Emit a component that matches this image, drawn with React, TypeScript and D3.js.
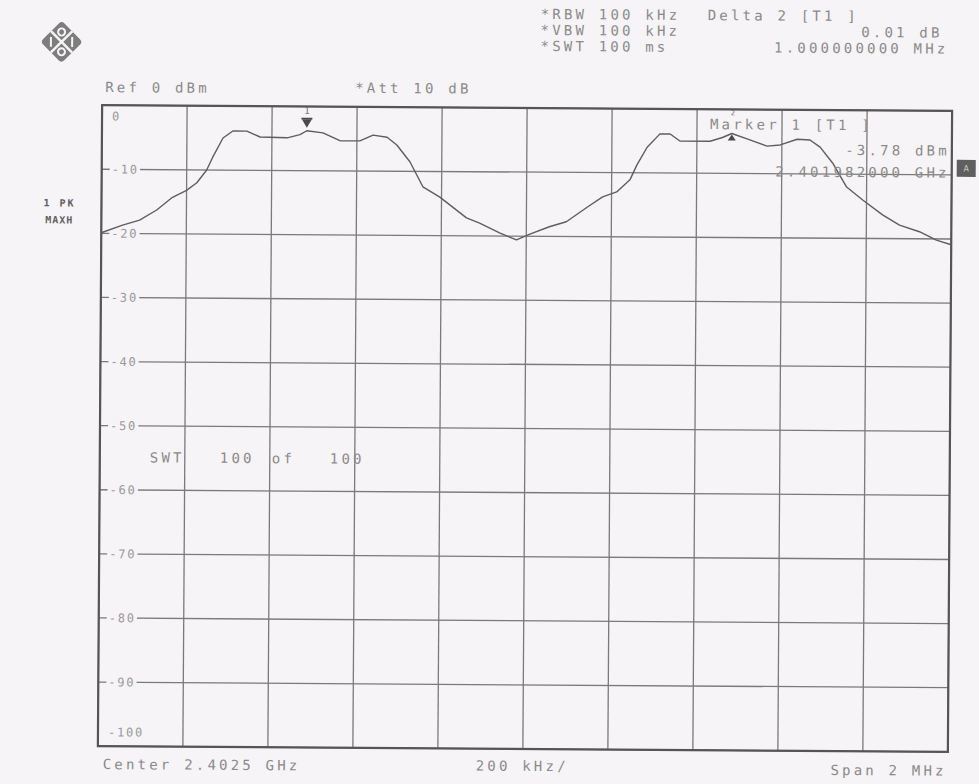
import React from "react";
import * as d3 from "d3";

// ---- data ----
const CENTER_GHZ = 2.4025;
const SPAN_MHZ = 2;
const REF_LEVEL_DBM = 0;
const Y_TICKS = [0, -10, -20, -30, -40, -50, -60, -70, -80, -90, -100];

// frequency offset from center (MHz) and trace level (dBm)
const TRACE_FREQ_MHZ = [
  -1.0, -0.95, -0.91, -0.87, -0.833, -0.8, -0.776, -0.753, -0.739, -0.715,
  -0.692, -0.659, -0.628, -0.564, -0.534, -0.518, -0.48, -0.44, -0.393, -0.362,
  -0.329, -0.306, -0.275, -0.244, -0.204, -0.141, -0.11, -0.063, -0.023, 0.007,
  0.054, 0.094, 0.141, 0.179, 0.212, 0.243, 0.259, 0.283, 0.313, 0.337,
  0.36, 0.431, 0.46, 0.482, 0.518, 0.565, 0.596, 0.636, 0.666, 0.69,
  0.72, 0.753, 0.791, 0.838, 0.878, 0.925, 0.965, 1.0,
];
const TRACE_LEVEL_DBM = [
  -19.9, -18.7, -17.9, -16.3, -14.3, -13.2, -12.0, -10.0, -8.0, -5.0,
  -3.9, -3.9, -4.8, -4.9, -4.4, -3.78, -4.1, -5.3, -5.3, -4.4,
  -4.7, -5.9, -8.5, -12.4, -14.0, -17.2, -18.0, -19.5, -20.6, -19.7,
  -18.5, -17.7, -15.5, -13.8, -13.0, -11.1, -8.8, -6.0, -3.9, -3.9,
  -5.0, -5.0, -4.4, -3.77, -4.6, -5.7, -5.5, -4.6, -4.7, -5.8,
  -8.3, -12.0, -14.0, -16.3, -17.9, -18.9, -20.2, -20.9,
];

const MARKER1_FREQ_MHZ = -0.518;
const MARKER1_LEVEL_DBM = -3.78;
const DELTA2_FREQ_MHZ = 1.0;
const DELTA2_LEVEL_DB = 0.01;

const HEADER_LEFT = ["*RBW 100 kHz", "*VBW 100 kHz", "*SWT 100 ms"];

// ---- layout ----
const W = 979;
const H = 784;
const L = 100;
const R = 950;
const T = 108;
const B = 749;

const BG = "#f6f4f6";
const TXT = "#8a8a8a";
const MONO = "'DejaVu Sans Mono', 'Liberation Mono', monospace";

export default function App() {
  const x = d3.scaleLinear().domain([-SPAN_MHZ / 2, SPAN_MHZ / 2]).range([L, R]);
  const y = d3.scaleLinear().domain([-100, REF_LEVEL_DBM]).range([B, T]);
  const xDivs = d3.range(0, 11).map((i) => -SPAN_MHZ / 2 + (i * SPAN_MHZ) / 10);

  const pts: [number, number][] = TRACE_FREQ_MHZ.map((f, i) => [f, TRACE_LEVEL_DBM[i]]);
  const line = d3
    .line<[number, number]>()
    .x((d) => x(d[0]))
    .y((d) => y(d[1]))
    .curve(d3.curveLinear);

  const m1x = x(MARKER1_FREQ_MHZ);
  const m1y = y(MARKER1_LEVEL_DBM);
  const m2x = x(MARKER1_FREQ_MHZ + DELTA2_FREQ_MHZ);
  const m2y = y(MARKER1_LEVEL_DBM + DELTA2_LEVEL_DB);

  const markerGHz = (CENTER_GHZ + MARKER1_FREQ_MHZ / 1000).toFixed(9);

  const hdr = { fontFamily: MONO, fontSize: 14, letterSpacing: 3.2, fill: TXT } as const;
  const tick = { fontFamily: MONO, fontSize: 12, letterSpacing: 1.8, fill: "#9a9a9a" } as const;

  return (
    <svg
      width={W}
      height={H}
      style={{ position: "absolute", left: 0, top: 0, display: "block" }}
    >
      <rect x={0} y={0} width={W} height={H} fill={BG} />
      <g transform="rotate(0.38 527 428)">
        {/* logo */}
        <g transform="translate(59,45) rotate(45)">
          <rect x={-15} y={-15} width={30} height={30} rx={4} fill="#7d7d7d" />
          <line x1={-15} y1={0} x2={15} y2={0} stroke={BG} strokeWidth={2.5} />
          <line x1={0} y1={-15} x2={0} y2={15} stroke={BG} strokeWidth={2.5} />
          <circle cx={-7} cy={-7} r={3.5} fill="none" stroke={BG} strokeWidth={2} />
          <circle cx={7} cy={7} r={3.5} fill="none" stroke={BG} strokeWidth={2} />
          <path d="M4,-11 L11,-4" stroke={BG} strokeWidth={2} />
          <path d="M-11,4 L-4,11" stroke={BG} strokeWidth={2} />
        </g>

        {/* header texts */}
        {HEADER_LEFT.map((t, i) => (
          <text key={t} x={538} y={14 + i * 16} dy="0.35em" {...hdr}>
            {t}
          </text>
        ))}
        <text x={705} y={14} dy="0.35em" {...hdr}>
          Delta 2 [T1 ]
        </text>
        <text x={940} y={30} dy="0.35em" textAnchor="end" {...hdr}>
          {`${DELTA2_LEVEL_DB.toFixed(2)} dB`}
        </text>
        <text x={946} y={46} dy="0.35em" textAnchor="end" {...hdr}>
          {`${DELTA2_FREQ_MHZ.toFixed(9)} MHz`}
        </text>
        <text x={103} y={90} dy="0.35em" {...hdr}>
          {`Ref  ${REF_LEVEL_DBM} dBm`}
        </text>
        <text x={353} y={89} dy="0.35em" {...hdr}>
          *Att  10 dB
        </text>

        {/* trace label */}
        <text x={58} y={206} dy="0.35em" textAnchor="middle" fontFamily={MONO} fontSize={10} fontWeight="bold" letterSpacing={2} fill="#606060">
          1 PK
        </text>
        <text x={58} y={223} dy="0.35em" textAnchor="middle" fontFamily={MONO} fontSize={10} fontWeight="bold" letterSpacing={1} fill="#606060">
          MAXH
        </text>

        {/* grid */}
        {Y_TICKS.map((v) => (
          <line key={"h" + v} x1={L} x2={R} y1={y(v)} y2={y(v)} stroke="#7a7a7a" strokeWidth={1.3} />
        ))}
        {xDivs.map((f, i) => (
          <line key={"v" + i} x1={x(f)} x2={x(f)} y1={T} y2={B} stroke="#7a7a7a" strokeWidth={1.3} />
        ))}

        {/* y tick labels */}
        {Y_TICKS.map((v) => {
          const isEdge = v === 0 || v === -100;
          const ty = v === 0 ? T + 11 : v === -100 ? B - 14 : y(v);
          const label = `${v}`;
          const w = label.length * 9.1;
          return (
            <g key={"t" + v}>
              {!isEdge && <rect x={L + 8} y={ty - 6} width={w + 3} height={12} fill={BG} />}
              <text x={L + 10} y={ty} dy="0.35em" {...tick}>
                {label}
              </text>
            </g>
          );
        })}

        {/* sweep count */}
        <text x={150} y={460} dy="0.35em" {...hdr}>SWT</text>
        <text x={220} y={460} dy="0.35em" {...hdr}>100</text>
        <text x={272} y={460} dy="0.35em" {...hdr}>of</text>
        <text x={330} y={460} dy="0.35em" {...hdr}>100</text>

        {/* frame */}
        <rect x={L} y={T} width={R - L} height={B - T} fill="none" stroke="#555" strokeWidth={2.2} />

        {/* trace */}
        <path d={line(pts) || ""} fill="none" stroke="#5e5e5e" strokeWidth={1.4} strokeLinejoin="round" />

        {/* marker 1 */}
        <rect x={m1x - 5.5} y={m1y - 13} width={11} height={1.6} fill="#4a4a4a" />
        <path d={`M${m1x - 5},${m1y - 11.5} L${m1x + 5},${m1y - 11.5} L${m1x},${m1y - 3} Z`} fill="#4a4a4a" />
        <text x={m1x} y={m1y - 17} textAnchor="middle" fontFamily={MONO} fontSize={9} fill="#707070">
          1
        </text>

        {/* delta marker 2 */}
        <path d={`M${m2x},${m2y + 1} L${m2x - 4},${m2y + 7} L${m2x + 4},${m2y + 7} Z`} fill="#4a4a4a" />
        <text x={m2x + 1} y={T + 6} textAnchor="middle" fontFamily={MONO} fontSize={7} fill="#707070">
          2
        </text>

        {/* marker info */}
        <text x={708} y={123} dy="0.35em" {...hdr}>
          Marker 1 [T1 ]
        </text>
        <text x={948} y={148} dy="0.35em" textAnchor="end" {...hdr}>
          {`${MARKER1_LEVEL_DBM.toFixed(2)} dBm`}
        </text>
        <text x={948} y={170} dy="0.35em" textAnchor="end" {...hdr}>
          {`${markerGHz} GHz`}
        </text>

        {/* side indicator */}
        <rect x={955} y={157} width={19} height={17} fill="#5f5f5f" />
        <text x={964.5} y={165.5} dy="0.35em" textAnchor="middle" fontFamily={MONO} fontSize={9} fill="#c8c8c8">
          A
        </text>

        {/* bottom texts */}
        <text x={105} y={767} dy="0.35em" {...hdr}>
          {`Center ${CENTER_GHZ} GHz`}
        </text>
        <text x={478} y={766} dy="0.35em" {...hdr}>
          {`${(SPAN_MHZ * 1000) / 10} kHz/`}
        </text>
        <text x={949} y={768} dy="0.35em" textAnchor="end" {...hdr}>
          {`Span ${SPAN_MHZ} MHz`}
        </text>
      </g>
    </svg>
  );
}
